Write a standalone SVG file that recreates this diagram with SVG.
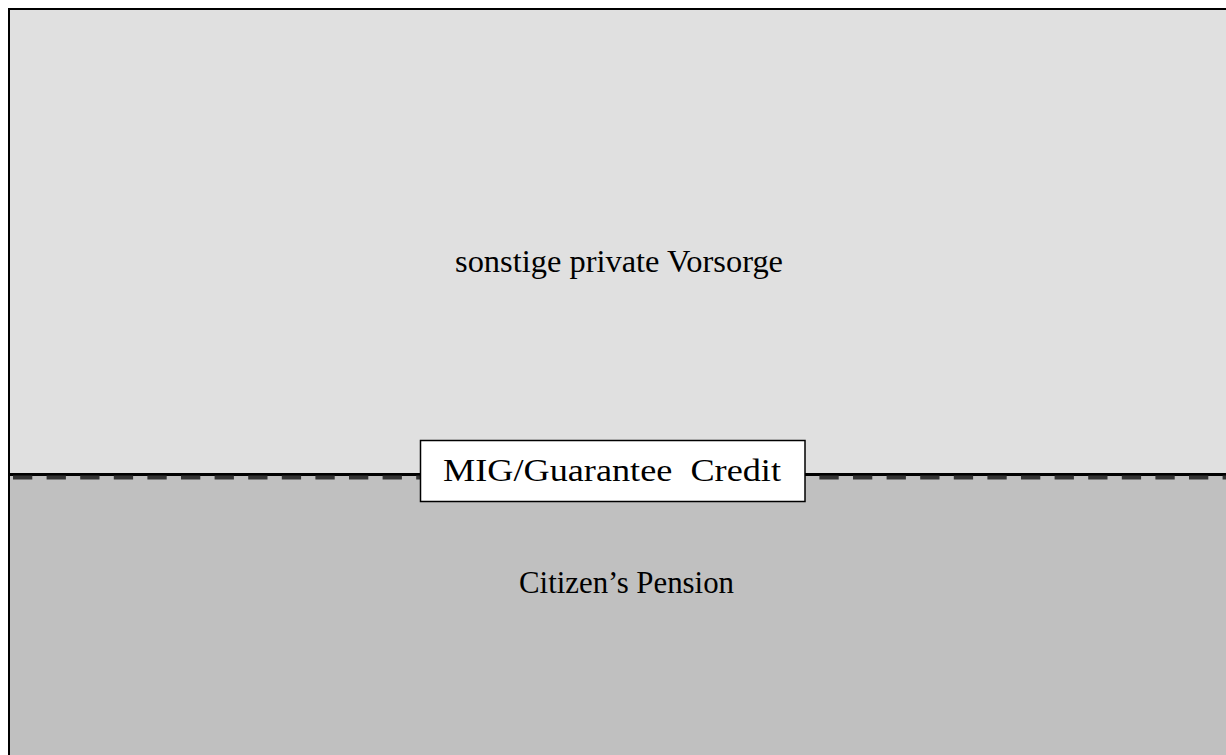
<svg xmlns="http://www.w3.org/2000/svg" width="1226" height="755" viewBox="0 0 1226 755">
<style>
.t{font-family:"Liberation Serif","Times New Roman",serif;fill:#000;text-anchor:middle}
</style>
<rect x="0" y="0" width="1226" height="755" fill="#ffffff"/>
<g id="upper">
<rect x="9" y="9" width="1230" height="466" fill="#e0e0e0" stroke="#000" stroke-width="2"/>
<text class="t" x="619" y="272" font-size="32" textLength="328" lengthAdjust="spacingAndGlyphs">sonstige private Vorsorge</text>
</g>
<g id="lower">
<rect x="9" y="475" width="1230" height="290" fill="#c0c0c0" stroke="#000" stroke-width="2"/>
<text class="t" x="626.5" y="593" font-size="31" textLength="215" lengthAdjust="spacingAndGlyphs">Citizen’s Pension</text>
</g>
<g id="connectors">
<line x1="9" y1="474" x2="1226" y2="474" stroke="#000" stroke-width="2"/>
<line x1="13" y1="477.5" x2="1226" y2="477.5" stroke="#333" stroke-width="4" stroke-dasharray="19.3 14.3"/>
</g>
<g id="mig">
<rect x="420.5" y="440.5" width="384.5" height="61" fill="#fff" stroke="#000" stroke-width="1.5"/>
<text class="t" x="612" y="481" font-size="32" textLength="338" lengthAdjust="spacingAndGlyphs" xml:space="preserve">MIG/Guarantee  Credit</text>
</g>
</svg>
